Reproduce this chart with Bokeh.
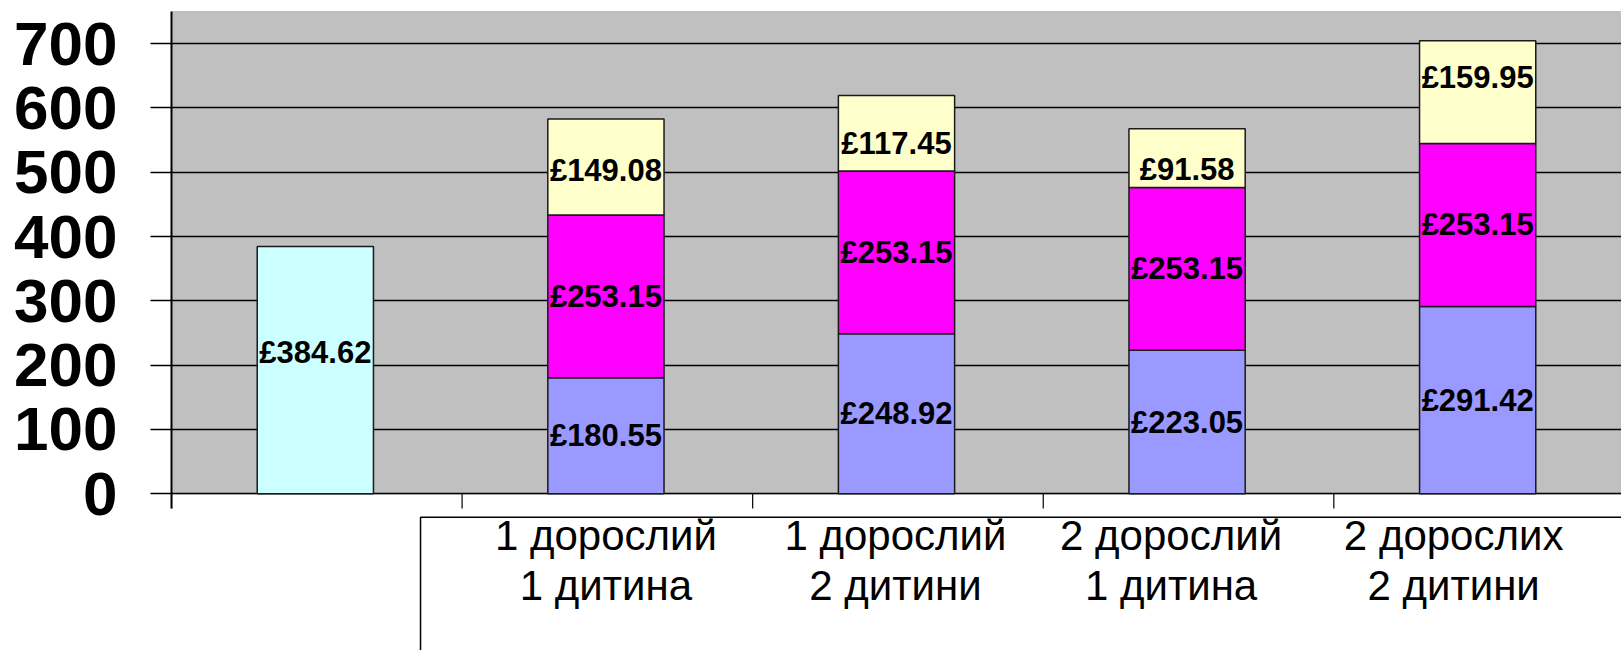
from bokeh.plotting import figure
from bokeh.models import Range1d, FixedTicker, ColumnDataSource
from bokeh.core.properties import value
from bokeh.embed import file_html
from bokeh.resources import INLINE

# ---- data ----
categories = ["", "1 дорослий\n1 дитина", "1 дорослий\n2 дитини",
              "2 дорослий\n1 дитина", "2 дорослих\n2 дитини"]
single_total = [384.62, 0, 0, 0, 0]
part_base = [0, 180.55, 248.92, 223.05, 291.42]
part_middle = [0, 253.15, 253.15, 253.15, 253.15]
part_top = [0, 149.08, 117.45, 91.58, 159.95]
y_ticks = [0, 100, 200, 300, 400, 500, 600, 700]

# ---- styles ----
FONT = value("Liberation Sans")
C_SINGLE = "#CCFFFF"
C_BASE = "#9999FF"
C_MID = "#FF00FF"
C_TOP = "#FFFFCC"
BAR_W = 0.4
Y_MAX = 750
Y_MIN = -243.7
X_END = 4.99

p = figure(width=1621, height=650, output_backend="svg", toolbar_location=None,
           x_range=Range1d(0, X_END), y_range=Range1d(Y_MIN, Y_MAX),
           x_axis_location=None, min_border_left=171, min_border_top=11,
           min_border_bottom=0, min_border_right=0)
p.outline_line_color = None
p.background_fill_color = "white"
p.border_fill_color = "white"

n = len(categories)
xs = [i + 0.495 for i in range(n)]

# plot-area background
p.quad(left=[0], right=[n + 1], bottom=[0], top=[Y_MAX], fill_color="#C0C0C0",
       line_color="#8C8C8C", line_width=1, level="image")

# grid
p.xgrid.visible = False
p.ygrid.ticker = FixedTicker(ticks=y_ticks)
p.ygrid.grid_line_color = "black"
p.ygrid.grid_line_width = 1.6

# y axis
ax = p.yaxis[0]
ax.ticker = FixedTicker(ticks=y_ticks)
ax.bounds = (-22.9, Y_MAX)
ax.axis_line_color = "black"
ax.axis_line_width = 2
ax.major_tick_line_color = "black"
ax.major_tick_line_width = 1.6
ax.major_tick_out = 21
ax.major_tick_in = 0
ax.minor_tick_line_color = None
ax.major_label_text_font = "Liberation Sans"
ax.major_label_text_font_style = "bold"
ax.major_label_text_font_size = "62px"
ax.major_label_text_color = "black"
ax.major_label_standoff = 33

# x-axis ticks at category boundaries
bounds = list(range(n))
p.segment(x0=bounds, y0=[0] * n, x1=bounds, y1=[-22.9] * n,
          line_color="black", line_width=1.2)

# bars
sx, sb, st, sc = [], [], [], []
for i in range(n):
    if single_total[i]:
        sx.append(xs[i]); sb.append(0); st.append(single_total[i]); sc.append(C_SINGLE)
    if part_base[i]:
        b = 0
        for v, c in ((part_base[i], C_BASE), (part_middle[i], C_MID), (part_top[i], C_TOP)):
            sx.append(xs[i]); sb.append(b); st.append(b + v); sc.append(c)
            b += v
src = ColumnDataSource(dict(x=sx, bottom=sb, top=st, color=sc))
p.vbar(x="x", bottom="bottom", top="top", width=BAR_W, fill_color="color",
       line_color="#1a1a1a", line_width=1.5, source=src)

# bar labels
label_dy = {(0, 0): -18, (1, 2): 4, (2, 2): 10, (3, 2): 11, (4, 2): -15}
lx, ly, lt, ld = [], [], [], []
for i in range(n):
    if single_total[i]:
        lx.append(xs[i]); ly.append(single_total[i] / 2)
        lt.append("£%.2f" % single_total[i]); ld.append(label_dy.get((i, 0), 0))
    if part_base[i]:
        b = 0
        for k, v in enumerate((part_base[i], part_middle[i], part_top[i])):
            lx.append(xs[i]); ly.append(b + v / 2)
            lt.append("£%.2f" % v); ld.append(label_dy.get((i, k), 0))
            b += v
lsrc = ColumnDataSource(dict(x=lx, y=ly, text=lt, dy=ld))
p.text(x="x", y="y", text="text", y_offset="dy", source=lsrc,
       text_font=FONT, text_font_style="bold", text_font_size="31px",
       text_align="center", text_baseline="middle", text_color="black")

# category label box
box_x = 0.857
box_y = -36.4
p.line(x=[box_x, box_x, n + 1], y=[Y_MIN - 10, box_y, box_y],
       line_color="black", line_width=1.5)

cat_dx = [0, 0, -1, -16, -24]
csrc = ColumnDataSource(dict(x=xs[1:], y=[-29.0] * (n - 1), text=categories[1:],
                             dx=cat_dx[1:]))
p.text(x="x", y="y", text="text", x_offset="dx", source=csrc,
       text_font=FONT, text_font_size="42px", text_align="center",
       text_baseline="top", text_color="black", text_line_height=1.05)

open("out.html", "w").write(file_html(p, INLINE))
